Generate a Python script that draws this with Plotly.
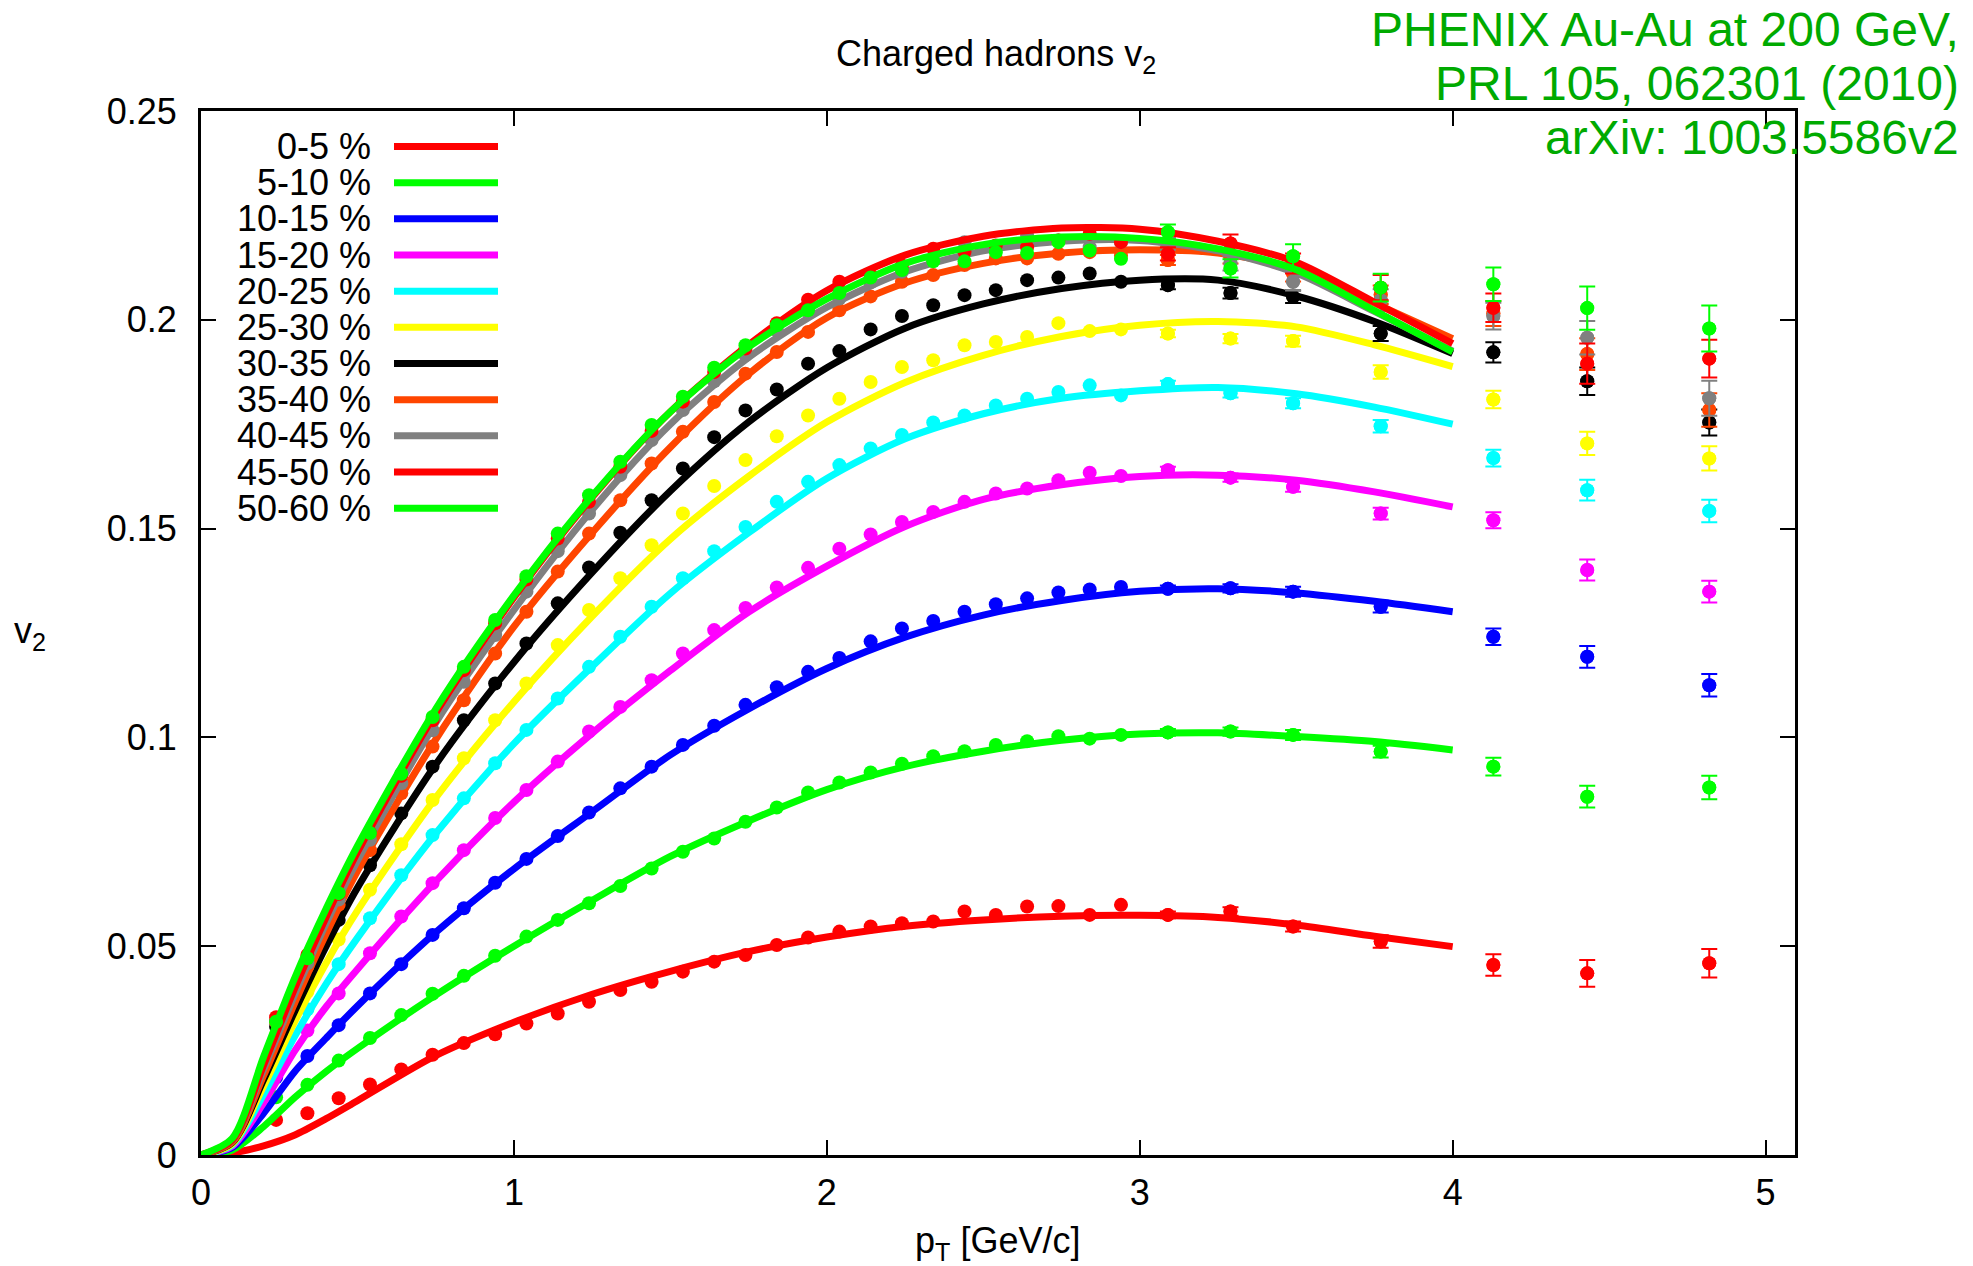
import plotly.graph_objects as go

# ---------------- data ----------------
pt = [0.24, 0.34, 0.44, 0.54, 0.64, 0.74, 0.84, 0.94, 1.04, 1.14, 1.24, 1.34, 1.44, 1.54,
      1.64, 1.74, 1.84, 1.94, 2.04, 2.14, 2.24, 2.34, 2.44, 2.54, 2.64, 2.74, 2.84, 2.94,
      3.09, 3.29, 3.49, 3.77, 4.13, 4.43, 4.82]
pt_err = [3.09, 3.29, 3.49, 3.77, 4.13, 4.43, 4.82]
pt_model = [0, 0.1, 0.2, 0.3, 0.4, 0.5, 0.75, 1.0, 1.25, 1.5, 1.75, 2.0, 2.25, 2.5, 2.75,
            3.0, 3.25, 3.5, 3.75, 4.0]

labels = ["0-5 %", "5-10 %", "10-15 %", "15-20 %", "20-25 %", "25-30 %", "30-35 %",
          "35-40 %", "40-45 %", "45-50 %", "50-60 %"]
colors = ["#ff0000", "#00ff00", "#0000ff", "#ff00ff", "#00ffff", "#ffff00", "#000000",
          "#ff4500", "#808080", "#ff0000", "#00ff00"]

v2_c0_5 = [0.0084, 0.0100, 0.0136, 0.0169, 0.0205, 0.0240, 0.0268, 0.0289, 0.0315, 0.0339,
           0.0367, 0.0395, 0.0415, 0.0439, 0.0463, 0.0479, 0.0503, 0.0521, 0.0535, 0.0547,
           0.0555, 0.0559, 0.0583, 0.0575, 0.0595, 0.0596, 0.0575, 0.0599, 0.0575, 0.0583,
           0.0547, 0.0511, 0.0455, 0.0435, 0.0459]
v2_c5_10 = [0.0138, 0.0168, 0.0226, 0.0280, 0.0335, 0.0386, 0.0429, 0.0477, 0.0523, 0.0563,
            0.0603, 0.0644, 0.0686, 0.0726, 0.0758, 0.0798, 0.0832, 0.0868, 0.0892, 0.0916,
            0.0937, 0.0955, 0.0967, 0.0982, 0.0991, 0.1003, 0.0997, 0.1006, 0.1012, 0.1014,
            0.1006, 0.0966, 0.0930, 0.0858, 0.0880]
v2_c10_15 = [0.0186, 0.0237, 0.0311, 0.0387, 0.0457, 0.0527, 0.0591, 0.0652, 0.0709, 0.0764,
             0.0820, 0.0878, 0.0930, 0.0982, 0.1028, 0.1078, 0.1120, 0.1157, 0.1190, 0.1230,
             0.1261, 0.1279, 0.1301, 0.1319, 0.1333, 0.1347, 0.1354, 0.1360, 0.1356, 0.1357,
             0.1349, 0.1313, 0.1241, 0.1193, 0.1125]
v2_c15_20 = [0.0229, 0.0298, 0.0387, 0.0483, 0.0571, 0.0651, 0.0730, 0.0807, 0.0874, 0.0942,
             0.1014, 0.1073, 0.1137, 0.1201, 0.1257, 0.1310, 0.1359, 0.1406, 0.1452, 0.1486,
             0.1516, 0.1540, 0.1564, 0.1584, 0.1596, 0.1616, 0.1634, 0.1626, 0.1640, 0.1622,
             0.1600, 0.1536, 0.1520, 0.1401, 0.1349]
v2_c20_25 = [0.0262, 0.0349, 0.0457, 0.0567, 0.0670, 0.0766, 0.0854, 0.0938, 0.1018, 0.1093,
             0.1169, 0.1241, 0.1313, 0.1381, 0.1446, 0.1504, 0.1564, 0.1612, 0.1652, 0.1692,
             0.1724, 0.1754, 0.1771, 0.1795, 0.1811, 0.1827, 0.1843, 0.1819, 0.1846, 0.1824,
             0.1800, 0.1745, 0.1669, 0.1592, 0.1542]
v2_c25_30 = [0.0287, 0.0391, 0.0516, 0.0635, 0.0744, 0.0850, 0.0950, 0.1041, 0.1129, 0.1221,
             0.1305, 0.1381, 0.1460, 0.1536, 0.1602, 0.1664, 0.1721, 0.1771, 0.1811, 0.1851,
             0.1887, 0.1903, 0.1939, 0.1947, 0.1959, 0.1992, 0.1973, 0.1977, 0.1967, 0.1955,
             0.1949, 0.1875, 0.1809, 0.1704, 0.1668]
v2_c30_35 = [0.0307, 0.0429, 0.0563, 0.0694, 0.0818, 0.0930, 0.1041, 0.1129, 0.1225, 0.1321,
             0.1407, 0.1490, 0.1568, 0.1644, 0.1719, 0.1783, 0.1833, 0.1895, 0.1925, 0.1977,
             0.2009, 0.2035, 0.2059, 0.2071, 0.2095, 0.2101, 0.2111, 0.2091, 0.2083, 0.2064,
             0.2055, 0.1967, 0.1922, 0.1853, 0.1754]
v2_c35_40 = [0.0318, 0.0451, 0.0599, 0.0730, 0.0866, 0.0978, 0.1089, 0.1201, 0.1301, 0.1397,
             0.1488, 0.1568, 0.1656, 0.1732, 0.1803, 0.1871, 0.1923, 0.1971, 0.2023, 0.2056,
             0.2091, 0.2107, 0.2131, 0.2147, 0.2147, 0.2158, 0.2162, 0.2154, 0.2143, 0.2150,
             0.2110, 0.2060, 0.2015, 0.1918, 0.1784]
v2_c40_45 = [0.0322, 0.0459, 0.0612, 0.0755, 0.0890, 0.1017, 0.1133, 0.1245, 0.1349, 0.1446,
             0.1536, 0.1628, 0.1712, 0.1784, 0.1853, 0.1915, 0.1975, 0.2019, 0.2051, 0.2090,
             0.2115, 0.2143, 0.2186, 0.2174, 0.2202, 0.2190, 0.2174, 0.2186, 0.2182, 0.2135,
             0.2091, 0.2047, 0.2009, 0.1957, 0.1812]
v2_c45_50 = [0.0330, 0.0479, 0.0625, 0.0772, 0.0908, 0.1041, 0.1161, 0.1273, 0.1378, 0.1476,
             0.1564, 0.1648, 0.1734, 0.1804, 0.1875, 0.1931, 0.1992, 0.2048, 0.2091, 0.2107,
             0.2130, 0.2170, 0.2163, 0.2178, 0.2174, 0.2190, 0.2206, 0.2186, 0.2158, 0.2183,
             0.2135, 0.2077, 0.2029, 0.1895, 0.1907]
v2_c50_60 = [0.0319, 0.0471, 0.0627, 0.0771, 0.0913, 0.1049, 0.1169, 0.1281, 0.1386, 0.1488,
             0.1580, 0.1660, 0.1748, 0.1816, 0.1885, 0.1939, 0.1987, 0.2023, 0.2064, 0.2101,
             0.2119, 0.2140, 0.2140, 0.2162, 0.2160, 0.2186, 0.2166, 0.2146, 0.2210, 0.2123,
             0.2152, 0.2077, 0.2085, 0.2028, 0.1979]

err_c0_5 = [0.0008, 0.0010, 0.0012, 0.0015, 0.0026, 0.0032, 0.0034]
err_c5_10 = [0.0008, 0.0010, 0.0012, 0.0014, 0.0021, 0.0026, 0.0028]
err_c10_15 = [0.0008, 0.0010, 0.0012, 0.0014, 0.0020, 0.0026, 0.0027]
err_c15_20 = [0.0008, 0.0010, 0.0012, 0.0014, 0.0019, 0.0025, 0.0026]
err_c20_25 = [0.0008, 0.0010, 0.0012, 0.0015, 0.0020, 0.0025, 0.0027]
err_c25_30 = [0.0009, 0.0011, 0.0013, 0.0016, 0.0021, 0.0028, 0.0029]
err_c30_35 = [0.0010, 0.0013, 0.0015, 0.0018, 0.0024, 0.0033, 0.0031]
err_c35_40 = [0.0012, 0.0015, 0.0018, 0.0022, 0.0030, 0.0038, 0.0040]
err_c40_45 = [0.0014, 0.0017, 0.0021, 0.0026, 0.0032, 0.0040, 0.0042]
err_c45_50 = [0.0016, 0.0021, 0.0024, 0.0030, 0.0034, 0.0048, 0.0045]
err_c50_60 = [0.0018, 0.0022, 0.0029, 0.0033, 0.0040, 0.0052, 0.0055]

model_c0_5 = [0, 0.0005, 0.0022, 0.0048, 0.0087, 0.0130, 0.0238, 0.0318, 0.0385, 0.0440,
              0.0487, 0.0522, 0.0548, 0.0563, 0.0572, 0.0574, 0.0569, 0.0551, 0.0524, 0.0499]
model_c5_10 = [0, 0.0012, 0.0068, 0.0138, 0.0200, 0.0255, 0.0383, 0.0500, 0.0610, 0.0715,
               0.0800, 0.0875, 0.0930, 0.0967, 0.0993, 0.1008, 0.1011, 0.1002, 0.0990, 0.0970]
model_c10_15 = [0, 0.0018, 0.0100, 0.0200, 0.0280, 0.0357, 0.0533, 0.0685, 0.0822, 0.0958,
                0.1068, 0.1165, 0.1240, 0.1293, 0.1328, 0.1350, 0.1356, 0.1346, 0.1326, 0.1301]
model_c15_20 = [0, 0.0021, 0.0125, 0.0250, 0.0355, 0.0445, 0.0655, 0.0845, 0.1010, 0.1160,
                0.1300, 0.1410, 0.1505, 0.1570, 0.1605, 0.1625, 0.1628, 0.1616, 0.1588, 0.1552]
model_c20_25 = [0, 0.0024, 0.0145, 0.0285, 0.0410, 0.0520, 0.0770, 0.0985, 0.1170, 0.1345,
                0.1490, 0.1620, 0.1715, 0.1775, 0.1812, 0.1830, 0.1838, 0.1823, 0.1791, 0.1750]
model_c25_30 = [0, 0.0027, 0.0165, 0.0320, 0.0460, 0.0585, 0.0855, 0.1085, 0.1290, 0.1475,
                0.1625, 0.1755, 0.1850, 0.1915, 0.1960, 0.1987, 0.1996, 0.1983, 0.1940, 0.1888]
model_c30_35 = [0, 0.0030, 0.0180, 0.0345, 0.0500, 0.0640, 0.0935, 0.1180, 0.1395, 0.1590,
                0.1755, 0.1885, 0.1980, 0.2038, 0.2075, 0.2095, 0.2095, 0.2057, 0.1996, 0.1919]
model_c35_40 = [0, 0.0031, 0.0190, 0.0365, 0.0530, 0.0680, 0.0995, 0.1265, 0.1490, 0.1695,
                0.1870, 0.2005, 0.2088, 0.2135, 0.2160, 0.2168, 0.2160, 0.2122, 0.2040, 0.1955]
model_c40_45 = [0, 0.0034, 0.0205, 0.0385, 0.0555, 0.0705, 0.1035, 0.1305, 0.1545, 0.1750,
                0.1910, 0.2030, 0.2115, 0.2165, 0.2188, 0.2190, 0.2165, 0.2112, 0.2020, 0.1925]
model_c45_50 = [0, 0.0036, 0.0215, 0.0400, 0.0570, 0.0725, 0.1058, 0.1335, 0.1575, 0.1780,
                0.1940, 0.2070, 0.2155, 0.2200, 0.2220, 0.2217, 0.2188, 0.2138, 0.2042, 0.1943]
model_c50_60 = [0, 0.0040, 0.0235, 0.0425, 0.0590, 0.0740, 0.1068, 0.1340, 0.1578, 0.1780,
                0.1935, 0.2050, 0.2135, 0.2180, 0.2198, 0.2195, 0.2170, 0.2120, 0.2022, 0.1923]

data_sets = [v2_c0_5, v2_c5_10, v2_c10_15, v2_c15_20, v2_c20_25, v2_c25_30, v2_c30_35,
             v2_c35_40, v2_c40_45, v2_c45_50, v2_c50_60]
err_sets = [err_c0_5, err_c5_10, err_c10_15, err_c15_20, err_c20_25, err_c25_30, err_c30_35,
            err_c35_40, err_c40_45, err_c45_50, err_c50_60]
model_sets = [model_c0_5, model_c5_10, model_c10_15, model_c15_20, model_c20_25, model_c25_30,
              model_c30_35, model_c35_40, model_c40_45, model_c45_50, model_c50_60]

y_ticks = [0, 0.05, 0.1, 0.15, 0.2, 0.25]
y_ticktext = ["0", "0.05", "0.1", "0.15", "0.2", "0.25"]
x_ticks = [0, 1, 2, 3, 4, 5]

title_text = "Charged hadrons v<sub>2</sub>"
ref_lines = ["PHENIX Au-Au at 200 GeV,", "PRL 105, 062301 (2010)", "arXiv: 1003.5586v2"]

# ---------------- figure ----------------
FONT = "Liberation Sans, Arial, sans-serif"
W, H = 1973, 1266
L, R, T, B = 201, 178, 111, 111
PW, PH = W - L - R, H - T - B


def px_x(x):
    return (x - L) / PW


def px_y(y):
    return (H - B - y) / PH


fig = go.Figure()
n_err = len(pt_err)
for lab, col, vals, errs, model in zip(labels, colors, data_sets, err_sets, model_sets):
    fig.add_trace(go.Scatter(x=pt_model, y=model, mode="lines", name=lab,
                             line=dict(color=col, width=7, shape="spline", smoothing=0.8),
                             showlegend=False, hoverinfo="skip"))
    fig.add_trace(go.Scatter(x=pt, y=vals, mode="markers",
                             marker=dict(color=col, size=14, line=dict(width=0)),
                             showlegend=False))
    fig.add_trace(go.Scatter(x=pt_err, y=vals[-n_err:], mode="markers",
                             marker=dict(color=col, size=14, line=dict(width=0)),
                             error_y=dict(type="data", array=errs, visible=True,
                                          color=col, thickness=2, width=8),
                             showlegend=False))

annotations = []
shapes = []
# gnuplot-style key: text right-aligned, line sample to the right
row0, drow = 146.5, 36.17
for i, (lab, col) in enumerate(zip(labels, colors)):
    yy = px_y(row0 + i * drow)
    annotations.append(dict(x=px_x(373), y=yy, xref="paper", yref="paper", text=lab,
                            showarrow=False, xanchor="right", yanchor="middle",
                            font=dict(family=FONT, size=36, color="black")))
    shapes.append(dict(type="line", xref="paper", yref="paper", x0=px_x(394), x1=px_x(498),
                       y0=yy, y1=yy, line=dict(color=col, width=7)))

for i, t in enumerate(ref_lines):
    annotations.append(dict(x=px_x(1961), y=px_y(30 + i * 53.5), xref="paper", yref="paper",
                            text=t, showarrow=False, xanchor="right", yanchor="middle",
                            font=dict(family=FONT, size=48, color="#00aa00")))

annotations.append(dict(x=px_x(996), y=px_y(56), xref="paper", yref="paper", text=title_text,
                        showarrow=False, xanchor="center", yanchor="middle",
                        font=dict(family=FONT, size=36, color="black")))
annotations.append(dict(x=px_x(30), y=px_y(633), xref="paper", yref="paper",
                        text="v<sub>2</sub>", showarrow=False, xanchor="center",
                        yanchor="middle", font=dict(family=FONT, size=36, color="black")))
annotations.append(dict(x=px_x(997), y=px_y(1243), xref="paper", yref="paper",
                        text="p<sub>T</sub> [GeV/c]", showarrow=False, xanchor="center",
                        yanchor="middle", font=dict(family=FONT, size=36, color="black")))

axis_common = dict(showgrid=False, zeroline=False, showline=True, linecolor="black",
                   linewidth=3, mirror="ticks", ticks="inside", ticklen=15, tickwidth=2,
                   tickcolor="black", tickfont=dict(family=FONT, size=36, color="black"))

fig.update_layout(
    width=W, height=H,
    margin=dict(l=L, r=R, t=T, b=B),
    paper_bgcolor="white", plot_bgcolor="white",
    showlegend=False,
    xaxis=dict(range=[0, 5.094], tickvals=x_ticks, ticklabelstandoff=4, **axis_common),
    yaxis=dict(range=[0, 0.25], tickvals=y_ticks, ticktext=y_ticktext,
               ticklabelstandoff=14, **axis_common),
    annotations=annotations,
    shapes=shapes,
)

fig.write_html("out.html", config={"displayModeBar": False},
               post_script="document.body.style.margin='0px';")
